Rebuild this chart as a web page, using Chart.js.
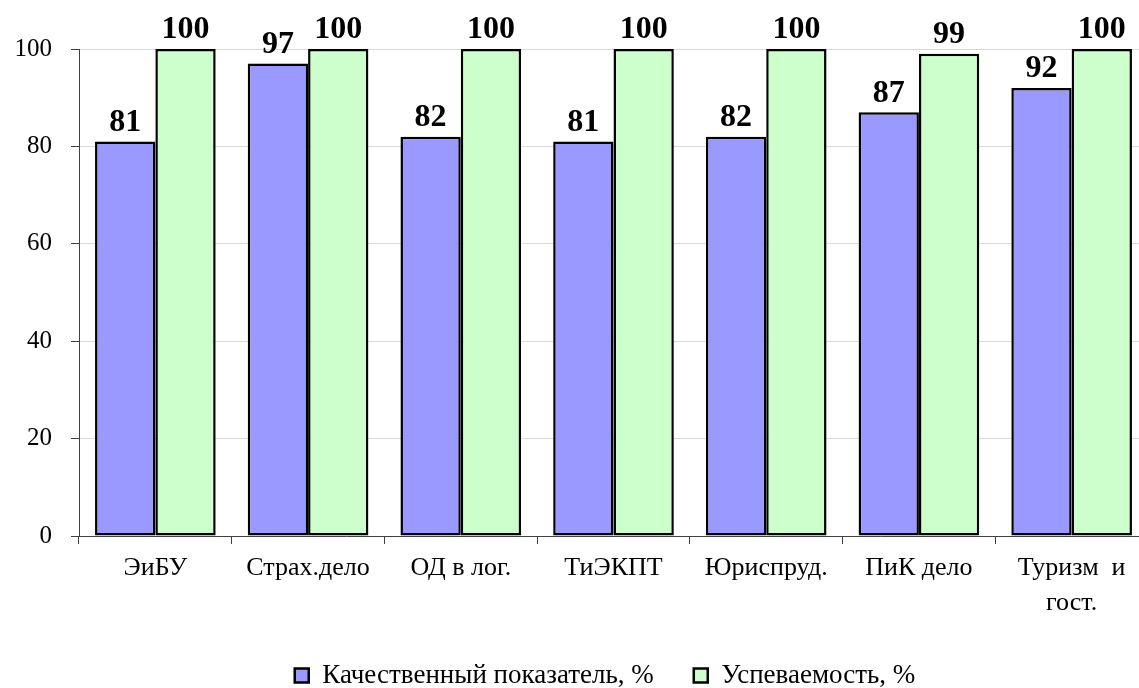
<!DOCTYPE html>
<html>
<head>
<meta charset="utf-8">
<script src="https://cdn.jsdelivr.net/npm/chart.js@4"></script>
<style>
  html, body { margin: 0; padding: 0; background: #fff; overflow: hidden; }
  #wrap { width: 1150px; height: 688px; }
</style>
</head>
<body>
<div id="wrap"><canvas id="chart"></canvas></div>
<script>
// данные
const categories = ['ЭиБУ', 'Страх.дело', 'ОД в лог.', 'ТиЭКПТ', 'Юриспруд.', 'ПиК дело', ['Туризм  и', 'гост.']];
const quality = [81, 97, 82, 81, 82, 87, 92];
const progress = [100, 100, 100, 100, 100, 99, 100];
const seriesNames = ['Качественный показатель, %', 'Успеваемость, %'];
const yTicks = [0, 20, 40, 60, 80, 100];

const serif = '"Liberation Serif", "Times New Roman", serif';

// подписи значений над столбцами
const valueLabels = {
    id: 'valueLabels',
    afterDatasetsDraw(chart) {
        const ctx = chart.ctx;
        ctx.save();
        ctx.font = 'bold 32px ' + serif;
        ctx.fillStyle = '#000';
        ctx.textAlign = 'center';
        ctx.textBaseline = 'bottom';
        chart.data.datasets.forEach((ds, i) => {
            chart.getDatasetMeta(i).data.forEach((bar, j) => {
                ctx.fillText(ds.data[j], bar.x, bar.y - 3);
            });
        });
        ctx.restore();
    }
};

// высота и сдвиг легенды
const legendBox = {
    id: 'legendBox',
    beforeInit(chart) {
        const fitValue = chart.legend.fit;
        chart.legend.fit = function fit() {
            fitValue.bind(chart.legend)();
            this.height = 66;
        };
    },
    afterLayout(chart) {
        // легенда в Excel центрирована по области построения
        chart.legend.left += 31;
        chart.legend.right += 31;
    }
};

new Chart(document.getElementById('chart'), {
    type: 'bar',
    data: {
        labels: categories,
        datasets: [{
            label: seriesNames[0],
            data: quality,
            backgroundColor: '#9999FF',
            borderColor: '#000',
            borderWidth: 2.5,
            borderSkipped: false
        }, {
            label: seriesNames[1],
            data: progress,
            backgroundColor: '#CCFFCC',
            borderColor: '#000',
            borderWidth: 2.5,
            borderSkipped: false
        }]
    },
    options: {
        responsive: true,
        maintainAspectRatio: false,
        animation: false,
        layout: {
            padding: { top: 49, left: 0, right: 2, bottom: 0 }
        },
        datasets: {
            bar: { categoryPercentage: 0.79, barPercentage: 1 }
        },
        scales: {
            x: {
                afterFit(scale) { scale.height = 86; },
                grid: {
                    drawOnChartArea: false,
                    tickLength: 8,
                    tickColor: '#404040',
                    offset: true
                },
                border: { color: '#404040', width: 1 },
                ticks: {
                    color: '#000',
                    padding: 7,
                    maxRotation: 0,
                    font: { family: serif, size: 26, lineHeight: 1.35 }
                }
            },
            y: {
                min: 0,
                max: 100,
                afterFit(scale) { scale.width = 79; },
                afterBuildTicks(scale) {
                    scale.ticks = yTicks.map(v => ({ value: v }));
                },
                grid: {
                    color: '#d9d9d9',
                    tickLength: 8,
                    tickColor: '#404040'
                },
                border: { color: '#404040', width: 1 },
                ticks: {
                    color: '#000',
                    padding: 19,
                    font: { family: serif, size: 25 }
                }
            }
        },
        plugins: {
            legend: {
                position: 'bottom',
                labels: {
                    color: '#000',
                    boxWidth: 14,
                    boxHeight: 14,
                    padding: 40,
                    font: { family: serif, size: 27 }
                }
            },
            tooltip: { enabled: false }
        }
    },
    plugins: [valueLabels, legendBox]
});
</script>
</body>
</html>
